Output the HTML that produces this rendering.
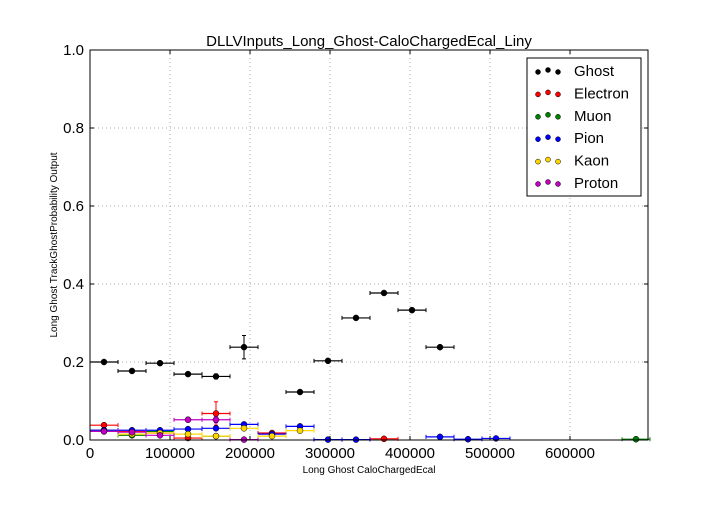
<!DOCTYPE html>
<html><head><meta charset="utf-8"><style>
html,body{margin:0;padding:0;background:#fff;}
svg text{font-family:"Liberation Sans",sans-serif;}
</style></head><body>
<svg id="chart" width="720" height="504" viewBox="0 0 720 504" xmlns="http://www.w3.org/2000/svg">
<rect x="0" y="0" width="720" height="504" fill="#fff"/>
<g id="grid"></g>
<g id="series"></g>
<rect x="90" y="50" width="558" height="390" fill="none" stroke="#000" stroke-width="1"/>
<g id="ticks"></g>
<text x="369" y="46" font-size="15" text-anchor="middle">DLLVInputs_Long_Ghost-CaloChargedEcal_Liny</text>
<text x="369" y="473" font-size="10" text-anchor="middle">Long Ghost CaloChargedEcal</text>
<text x="57" y="245" font-size="10" text-anchor="middle" transform="rotate(-90 57 245)">Long Ghost TrackGhostProbability Output</text>
<g id="legend"></g>
</svg>
<script>
const binCenters = [17500,52500,87500,122500,157500,192500,227500,262500,297500,332500,367500,402500,437500,472500,507500,542500,577500,612500,647500,682500];
const ghost    = [0.200,0.177,0.197,0.169,0.163,0.238,null,0.123,0.203,0.313,0.377,0.333,0.238,null,null,null,null,null,null,null];
const ghostErr = [0.003,0.003,0.003,0.005,0.006,0.030,0,0.004,0.003,0.004,0.003,0.004,0.004,0,0,0,0,0,0,0];
const electron = [0.038,0.022,0.018,0.005,0.068,null,0.018,null,null,null,0.003,null,null,null,null,null,null,null,null,null];
const electronErr=[0.004,0.003,0.003,0.003,0.030,0,0.003,0,0,0,0.002,0,0,0,0,0,0,0,0,0];
const muon     = [0.025,0.012,0.022,null,0.010,null,null,null,null,null,null,null,null,null,null,null,null,null,null,0.002];
const pion     = [0.025,0.025,0.025,0.028,0.030,0.040,0.015,0.035,0.001,0.001,null,null,0.008,0.002,0.004,null,null,null,null,null];
const kaon     = [0.022,0.015,0.018,0.015,0.010,0.030,0.010,0.024,null,null,null,null,null,null,null,null,null,null,null,null];
const proton   = [0.022,0.020,0.012,0.052,0.052,0.001,null,null,null,null,null,null,null,null,null,null,null,null,null,null];
const protonErr= [0.003,0.003,0.003,0.006,0.008,0,0,0,0,0,0,0,0,0,0,0,0,0,0,0];
const seriesNames = ["Ghost","Electron","Muon","Pion","Kaon","Proton"];
const seriesColors = ["#000000","#ff0000","#008000","#0000ff","#ffd700","#bf00bf"];
const xTicks = [0,100000,200000,300000,400000,500000,600000];
const yTicks = [0.0,0.2,0.4,0.6,0.8,1.0];
const binWidth = 35000;

const NS="http://www.w3.org/2000/svg";
const X0=90,X1=648,Y0=440,Y1=50,XMAX=697500;
const xs=v=>X0+v/XMAX*(X1-X0);
const ys=v=>Y0-v*(Y0-Y1);
function mk(tag,attrs,parent){const e=document.createElementNS(NS,tag);for(const k in attrs)e.setAttribute(k,attrs[k]);parent.appendChild(e);return e;}
const grid=document.getElementById('grid'),ticks=document.getElementById('ticks'),ser=document.getElementById('series'),leg=document.getElementById('legend');
xTicks.forEach(t=>{const x=xs(t);
 const g=mk('line',{x1:x,x2:x,y1:Y1,y2:Y0,stroke:'#aaa','stroke-dasharray':'1,3'},grid);
 
 
 mk('line',{x1:x,x2:x,y1:Y0,y2:Y0-4,stroke:'#000'},ticks);
 mk('line',{x1:x,x2:x,y1:Y1,y2:Y1+4,stroke:'#000'},ticks);
 const tx=mk('text',{x:x,y:Y0+18,'font-size':15,'text-anchor':'middle'},ticks);tx.textContent=String(t);
 
 
});
yTicks.forEach(t=>{const y=ys(t);
 const g=mk('line',{x1:X0,x2:X1,y1:y,y2:y,stroke:'#aaa','stroke-dasharray':'1,3'},grid);
 
 
 mk('line',{x1:X0,x2:X0+4,y1:y,y2:y,stroke:'#000'},ticks);
 mk('line',{x1:X1,x2:X1-4,y1:y,y2:y,stroke:'#000'},ticks);
 const tx=mk('text',{x:X0-6,y:y+5,'font-size':15,'text-anchor':'end'},ticks);tx.textContent=t.toFixed(1);
 
 
});
const allSeries=[[ghost,ghostErr],[electron,electronErr],[muon,null],[pion,null],[kaon,null],[proton,protonErr]];
allSeries.forEach(([vals,errs],si)=>{
 const c=seriesColors[si];
 const g=mk('g',{},ser);
 
 
 vals.forEach((v,i)=>{ if(v===null)return;
  const cx=xs(binCenters[i]),cy=ys(v);
  const xl=xs(binCenters[i]-binWidth/2),xr=xs(binCenters[i]+binWidth/2);
  mk('line',{x1:xl,x2:xr,y1:cy,y2:cy,stroke:c,'stroke-width':1.2},g);
  mk('line',{x1:xl,x2:xl,y1:cy-2,y2:cy+2,stroke:c},g);
  mk('line',{x1:xr,x2:xr,y1:cy-2,y2:cy+2,stroke:c},g);
  const e=errs?errs[i]:0;
  if(e>0){const a=ys(v+e),b=ys(v-e);
   mk('line',{x1:cx,x2:cx,y1:a,y2:b,stroke:c},g);
   mk('line',{x1:cx-2,x2:cx+2,y1:a,y2:a,stroke:c},g);
   mk('line',{x1:cx-2,x2:cx+2,y1:b,y2:b,stroke:c},g);}
  const p=mk('circle',{cx:cx,cy:cy,r:3,fill:c,stroke:'#000','stroke-width':0.5},g);
  
  
 });
});
mk('rect',{x:527,y:58,width:114,height:138,fill:'#fff',stroke:'#000'},leg);
seriesNames.forEach((n,i)=>{const y=71+i*22.4;
 const e=mk('g',{},leg);
 
 
 [538,548,558].forEach((x,k)=>mk('circle',{cx:x,cy:y+(k==1?-1:1),r:2.5,fill:seriesColors[i],stroke:'#000','stroke-width':0.5},e));
 const t=mk('text',{x:574,y:y+5,'font-size':15},e);t.textContent=n;
});
</script>
</body></html>
